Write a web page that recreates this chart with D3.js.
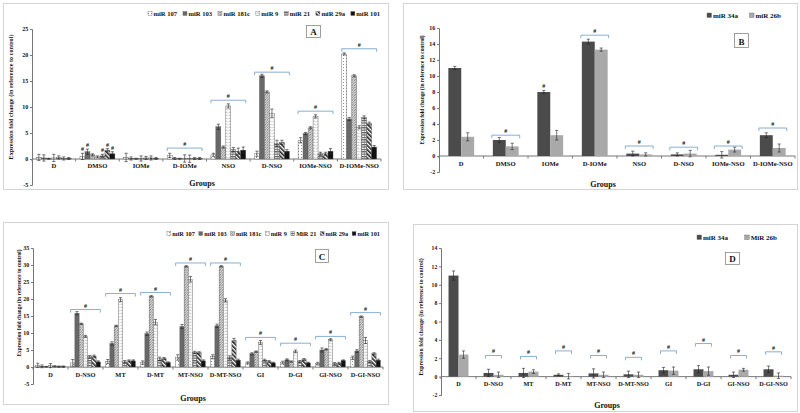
<!DOCTYPE html>
<html><head><meta charset="utf-8">
<script src="https://cdn.jsdelivr.net/npm/d3@7"></script>
<style>
body{margin:0;background:#fff}
svg{display:block}
text{font-family:"Liberation Serif","Times New Roman",serif;font-weight:bold;fill:#111}
</style>
</head><body>
<svg id="c" width="800" height="413"></svg>
<script>
// ---------------- DATA ----------------
const catsA = ["D","DMSO","IOMe","D-IOMe","NSO","D-NSO","IOMe-NSO","D-IOMe-NSO"];
const seriesA = ["miR 107","miR 103","miR 181c","miR 9","miR 21","miR 29a","miR 101"];
const valsA = [
  [0.3,0.5,0.3,0.7,0.8,1.0,3.6,20.2],
  [0.2,1.4,0.1,0.1,6.2,16.0,4.9,7.7],
  [0.05,0.8,0.05,0.05,2.3,12.9,6.0,16.0],
  [0.2,0.4,0.1,0.1,10.2,8.8,8.2,6.1],
  [0.3,0.6,0.2,0.05,1.8,3.0,1.0,8.0],
  [0.1,1.7,0.2,0.1,1.5,3.2,1.0,6.8],
  [0.1,1.0,0.1,0.1,1.7,1.5,1.5,2.3]
];
const errsA = [
  [0.6,0.6,0.8,0.4,0.3,0.5,0.5,0.2],
  [0.6,0.5,0.3,0.2,0.5,0.3,0.2,0.3],
  [0.1,0.2,0.1,0.1,0.2,0.2,0.2,0.2],
  [0.7,0.2,0.5,0.7,0.4,0.8,0.3,0.3],
  [0.3,0.3,0.3,0.7,0.4,0.6,0.3,0.3],
  [0.3,0.3,0.4,0.2,0.6,0.4,0.3,0.3],
  [0.2,0.4,0.2,0.2,0.6,0.3,0.5,0.3]
];
const ticksA = [-5,0,5,10,15,20,25];
const bracketsA = [["D-IOMe",2.1],["NSO",11.3],["D-NSO",16.7],["IOMe-NSO",9.2],["D-IOMe-NSO",21.2]];
const marksA = [["DMSO",0],["DMSO",1],["DMSO",4],["DMSO",5],["DMSO",6]];

const catsB = ["D","DMSO","IOMe","D-IOMe","NSO","D-NSO","IOMe-NSO","D-IOMe-NSO"];
const seriesB = ["miR 34a","miR 26b"];
const valsB = [
  [11.0,2.0,8.0,14.3,0.3,0.2,0.15,2.6],
  [2.4,1.2,2.6,13.3,0.2,0.3,0.8,1.0]
];
const errsB = [
  [0.2,0.3,0.2,0.3,0.3,0.2,0.4,0.3],
  [0.5,0.4,0.6,0.2,0.2,0.4,0.3,0.5]
];
const ticksB = [-2,0,2,4,6,8,10,12,14,16];
const bracketsB = [["DMSO",2.6],["D-IOMe",15.1],["NSO",1.25],["D-NSO",1.1],["IOMe-NSO",1.25],["D-IOMe-NSO",3.5]];
const marksB = [["IOMe",0]];

const catsC = ["D","D-NSO","MT","D-MT","MT-NSO","D-MT-NSO","GI","D-GI","GI-NSO","D-GI-NSO"];
const seriesC = ["miR 107","miR 103","miR 181c","miR 9","MiR 21","miR 29a","miR 101"];
const valsC = [
  [0.5,1.2,1.6,1.3,2.8,3.0,1.2,1.3,1.0,2.7],
  [0.2,15.8,6.9,9.8,11.9,12.1,3.9,2.1,5.0,4.7],
  [0.05,12.7,12.1,20.8,29.6,29.6,4.5,1.6,5.2,14.8],
  [0.4,9.0,19.8,13.2,25.8,19.6,7.2,4.6,8.0,7.8],
  [0.2,3.0,1.5,2.4,4.3,2.8,2.0,1.6,1.0,1.6],
  [0.1,3.2,1.8,2.5,4.2,7.8,1.6,2.2,1.1,3.9],
  [0.1,1.5,1.8,1.3,1.8,2.0,1.2,1.2,1.9,2.0]
];
const errsC = [
  [0.6,1.0,0.6,0.5,0.8,0.6,0.3,0.4,0.4,0.5],
  [0.4,0.5,0.5,0.5,0.6,0.5,0.3,0.3,0.6,0.4],
  [0.1,0.2,0.2,0.2,0.2,0.2,0.2,0.2,0.2,0.2],
  [0.6,0.3,0.6,0.8,0.8,0.5,0.6,0.4,0.3,0.9],
  [0.2,0.4,0.4,0.5,0.3,0.5,0.3,0.3,0.3,0.3],
  [0.2,0.3,0.3,0.3,0.3,0.6,0.3,0.3,0.3,0.3],
  [0.2,0.3,0.3,0.2,0.3,0.3,0.2,0.2,0.2,0.3]
];
const ticksC = [-5,0,5,10,15,20,25,30,35];
const bracketsC = [["D-NSO",16.9],["MT",21.6],["D-MT",21.9],["MT-NSO",30.6],["D-MT-NSO",30.6],["GI",8.7],["D-GI",7.0],["GI-NSO",9.0],["D-GI-NSO",16.0]];

const catsD = ["D","D-NSO","MT","D-MT","MT-NSO","D-MT-NSO","GI","D-GI","GI-NSO","D-GI-NSO"];
const seriesD = ["miR 34a","MiR 26b"];
const valsD = [
  [11.0,0.4,0.4,0.2,0.35,0.25,0.7,0.8,0.2,0.8],
  [2.4,0.2,0.55,0.05,0.2,0.2,0.65,0.6,0.75,0.1]
];
const errsD = [
  [0.5,0.4,0.5,0.1,0.5,0.35,0.3,0.4,0.3,0.35],
  [0.4,0.3,0.2,0.3,0.3,0.3,0.4,0.45,0.15,0.3]
];
const ticksD = [-2,0,2,4,6,8,10,12,14];
const bracketsD = [["D-NSO",2.3],["MT",2.2],["D-MT",2.8],["MT-NSO",2.3],["D-MT-NSO",2.1],["GI",2.8],["D-GI",3.6],["GI-NSO",2.3],["D-GI-NSO",2.7]];

// ---------------- DRAW ----------------
const svg = d3.select("#c");
const defs = svg.append("defs");

function pat(id, w, h, build, transform) {
  const p = defs.append("pattern").attr("id", id).attr("patternUnits","userSpaceOnUse")
    .attr("width", w).attr("height", h);
  if (transform) p.attr("patternTransform", transform);
  build(p);
}
pat("p107", 3, 3, p => {
  p.append("rect").attr("width",3).attr("height",3).attr("fill","#fff");
  p.append("circle").attr("cx",1.5).attr("cy",1.5).attr("r",0.55).attr("fill","#777");
});
pat("p181", 2.5, 2.5, p => {
  p.append("rect").attr("width",2.5).attr("height",2.5).attr("fill","#e2e2e2");
  p.append("path").attr("d","M0,2.5L2.5,0").attr("stroke","#666").attr("stroke-width",0.7);
  p.append("path").attr("d","M0,0L2.5,2.5").attr("stroke","#999").attr("stroke-width",0.4);
});
pat("p9", 4, 3, p => {
  p.append("rect").attr("width",4).attr("height",3).attr("fill","#fff");
  p.append("path").attr("d","M0.4,1.9L2,0.9L3.6,1.9").attr("fill","none").attr("stroke","#888").attr("stroke-width",0.55);
});
pat("p21", 3, 2.4, p => {
  p.append("rect").attr("width",3).attr("height",2.4).attr("fill","#fff");
  p.append("rect").attr("width",3).attr("height",1.2).attr("fill","#555");
  p.append("rect").attr("x",1.2).attr("width",0.5).attr("height",2.4).attr("fill","#777");
});
pat("p29", 3, 3, p => {
  p.append("rect").attr("width",3).attr("height",3).attr("fill","#fff");
  p.append("rect").attr("width",1.6).attr("height",3).attr("fill","#222");
}, "rotate(-45)");

const fills7 = ["url(#p107)","#686868","url(#p181)","url(#p9)","url(#p21)","url(#p29)","#111"];
const fills2 = ["#4b4b4b","#a9a9a9"];

function panel(cfg) {
  const g = svg.append("g");
  const b = cfg.border;
  g.append("rect").attr("x",b[0]+0.5).attr("y",b[1]+0.5).attr("width",b[2]-b[0]).attr("height",b[3]-b[1])
    .attr("fill","none").attr("stroke","#d4d4d4").attr("stroke-width",1);

  const x = d3.scaleBand().domain(cfg.cats).range(cfg.xr).paddingInner(cfg.pi).paddingOuter(cfg.pi/2);
  const xf = d3.scaleBand().domain(cfg.cats).range(cfg.xr);
  const xs = d3.scaleBand().domain(d3.range(cfg.series.length)).range([0, x.bandwidth()]);
  const y = d3.scaleLinear().domain(cfg.yd).range(cfg.yr);

  // y axis
  const ya = g.append("g").attr("transform",`translate(${cfg.xr[0]},0)`)
    .call(d3.axisLeft(y).tickValues(cfg.ticks).tickSize(2).tickPadding(1.8).tickFormat(d => String(d)));
  ya.attr("font-family",null);
  ya.select(".domain").attr("stroke","#777");
  ya.selectAll(".tick line").attr("stroke","#777");
  ya.selectAll("text").attr("font-size",cfg.tickFs).attr("fill","#111");

  // x axis at zero
  const y0 = y(0);
  g.append("line").attr("x1",cfg.xr[0]).attr("x2",cfg.xr[1]).attr("y1",y0).attr("y2",y0).attr("stroke","#777");
  g.selectAll(".xt").data(cfg.cats.concat([null])).join("line")
    .attr("x1",(d,i)=> i < cfg.cats.length ? xf(d) : cfg.xr[1])
    .attr("x2",(d,i)=> i < cfg.cats.length ? xf(d) : cfg.xr[1])
    .attr("y1",y0).attr("y2",y0+2.5).attr("stroke","#777");

  // bars
  cfg.series.forEach((s, si) => {
    const gs = g.append("g");
    gs.selectAll("rect").data(cfg.cats).join("rect")
      .attr("x", c => x(c) + xs(si))
      .attr("width", xs.bandwidth())
      .attr("y", (c,ci) => y(Math.max(0, cfg.vals[si][ci])))
      .attr("height", (c,ci) => Math.abs(y(cfg.vals[si][ci]) - y0))
      .attr("fill", cfg.fills[si])
      .attr("stroke", cfg.barStroke).attr("stroke-width", 0.4);
    // error bars
    const cap = Math.min(1.6, xs.bandwidth()/2.5);
    cfg.cats.forEach((c, ci) => {
      const cx = x(c) + xs(si) + xs.bandwidth()/2;
      const v = cfg.vals[si][ci], e = cfg.errs[si][ci];
      const yt = y(v + e), yb = y(v - e);
      gs.append("line").attr("x1",cx).attr("x2",cx).attr("y1",yt).attr("y2",yb).attr("stroke","#222").attr("stroke-width",0.6);
      gs.append("line").attr("x1",cx-cap).attr("x2",cx+cap).attr("y1",yt).attr("y2",yt).attr("stroke","#222").attr("stroke-width",0.6);
      gs.append("line").attr("x1",cx-cap).attr("x2",cx+cap).attr("y1",yb).attr("y2",yb).attr("stroke","#222").attr("stroke-width",0.6);
    });
  });

  // category labels
  g.selectAll(".cl").data(cfg.cats).join("text")
    .attr("x", c => xf(c) + xf.bandwidth()/2).attr("y", cfg.catY)
    .attr("text-anchor","middle").attr("font-size",cfg.catFs).text(c => c);

  // brackets
  (cfg.brackets || []).forEach(([c, lv]) => {
    const x1 = x(c) + cfg.bInset, x2 = x(c) + x.bandwidth() - cfg.bInset;
    const yy = y(lv);
    g.append("path").attr("d",`M${x1},${yy+3}L${x1},${yy}L${x2},${yy}L${x2},${yy+3}`)
      .attr("fill","none").attr("stroke","#6b9bc8").attr("stroke-width",0.8);
    g.append("text").attr("x",(x1+x2)/2).attr("y",yy-2).attr("text-anchor","middle")
      .attr("font-size",cfg.hashFs).attr("fill","#333").text("#");
  });
  (cfg.marks || []).forEach(([c, si]) => {
    const ci = cfg.cats.indexOf(c);
    const cx = x(c) + xs(si) + xs.bandwidth()/2;
    const yy = y(cfg.vals[si][ci] + cfg.errs[si][ci]);
    g.append("text").attr("x",cx).attr("y",yy-2).attr("text-anchor","middle")
      .attr("font-size",cfg.hashFs).attr("fill","#333").text("#");
  });

  // axis titles
  g.append("text").attr("transform",`translate(${cfg.yTitle[0]},${cfg.yTitle[1]}) rotate(-90)`)
    .attr("text-anchor","middle").attr("font-size",cfg.yTitleFs).text("Expression fold change (in reference to control)");
  g.append("text").attr("x",cfg.xTitle[0]).attr("y",cfg.xTitle[1]).attr("text-anchor","middle")
    .attr("font-size",8).text("Groups");

  // letter box
  const lb = cfg.letterBox;
  g.append("rect").attr("x",lb[0]+0.5).attr("y",lb[1]+0.5).attr("width",lb[2]-lb[0]).attr("height",lb[3]-lb[1])
    .attr("fill","#fff").attr("stroke","#888").attr("stroke-width",0.8);
  g.append("text").attr("x",(lb[0]+lb[2])/2+0.5).attr("y",lb[3]-2.5).attr("text-anchor","middle")
    .attr("font-size",cfg.letterFs).text(cfg.letter);

  // legend
  const L = cfg.legend;
  const lg = g.append("g");
  const texts = cfg.series.map(t => lg.append("text").attr("font-size",L.fs).attr("y",L.y).text(t));
  const widths = texts.map(t => t.node().getComputedTextLength());
  const itemW = widths.map(w => L.ms + 1.5 + w);
  const gap = (L.x1 - L.x0 - d3.sum(itemW)) / (cfg.series.length - 1);
  let cx = L.x0;
  cfg.series.forEach((s, i) => {
    lg.append("rect").attr("x",cx).attr("y",L.y - L.ms - 0.5).attr("width",L.ms).attr("height",L.ms)
      .attr("fill",cfg.fills[i]).attr("stroke","#666").attr("stroke-width",0.4);
    texts[i].attr("x", cx + L.ms + 1.5);
    cx += itemW[i] + gap;
  });
}

panel({
  cats: catsA, series: seriesA, vals: valsA, errs: errsA, fills: fills7, barStroke: "#555",
  border: [3,3,388,189], xr: [32,381], pi: 0.2, yd: [-5,25], yr: [185,29], ticks: ticksA,
  tickFs: 6, catY: 168, catFs: 6.6, brackets: bracketsA, marks: marksA, bInset: 0, hashFs: 6,
  yTitle: [12.5,97], yTitleFs: 6.2, xTitle: [202,186],
  letterBox: [306,25,320,37], letter: "A", letterFs: 9,
  legend: {x0:148, x1:380, y:16, fs:6.6, ms:4}
});
panel({
  cats: catsB, series: seriesB, vals: valsB, errs: errsB, fills: fills2, barStroke: "none",
  border: [403,3,797,189], xr: [439,795], pi: 0.42, yd: [-2,16], yr: [172,28], ticks: ticksB,
  tickFs: 6, catY: 166, catFs: 6.6, brackets: bracketsB, marks: marksB, bInset: -1, hashFs: 6,
  yTitle: [424,90], yTitleFs: 5.4, xTitle: [603,187],
  letterBox: [734,33,748,47], letter: "B", letterFs: 9,
  legend: {x0:707, x1:781, y:18, fs:7, ms:4.5}
});
panel({
  cats: catsC, series: seriesC, vals: valsC, errs: errsC, fills: fills7, barStroke: "#555",
  border: [3,222,388,404], xr: [33,383], pi: 0.15, yd: [-5,35], yr: [384,248], ticks: ticksC,
  tickFs: 6, catY: 376.5, catFs: 6.4, brackets: bracketsC, bInset: 0, hashFs: 6,
  yTitle: [21,303], yTitleFs: 5.3, xTitle: [193,401],
  letterBox: [315,249,328,262], letter: "C", letterFs: 9,
  legend: {x0:167, x1:380, y:236, fs:6.3, ms:3.8}
});
panel({
  cats: catsD, series: seriesD, vals: valsD, errs: errsD, fills: fills2, barStroke: "none",
  border: [413,224,797,411], xr: [441,791], pi: 0.43, yd: [-2,14], yr: [395,248], ticks: ticksD,
  tickFs: 5.6, catY: 386, catFs: 6.2, brackets: bracketsD, bInset: 2, hashFs: 6,
  yTitle: [423,317], yTitleFs: 5.8, xTitle: [607,408],
  letterBox: [725,252,739,264], letter: "D", letterFs: 9,
  legend: {x0:697, x1:777, y:240, fs:7, ms:4.5}
});
</script>
</body></html>
